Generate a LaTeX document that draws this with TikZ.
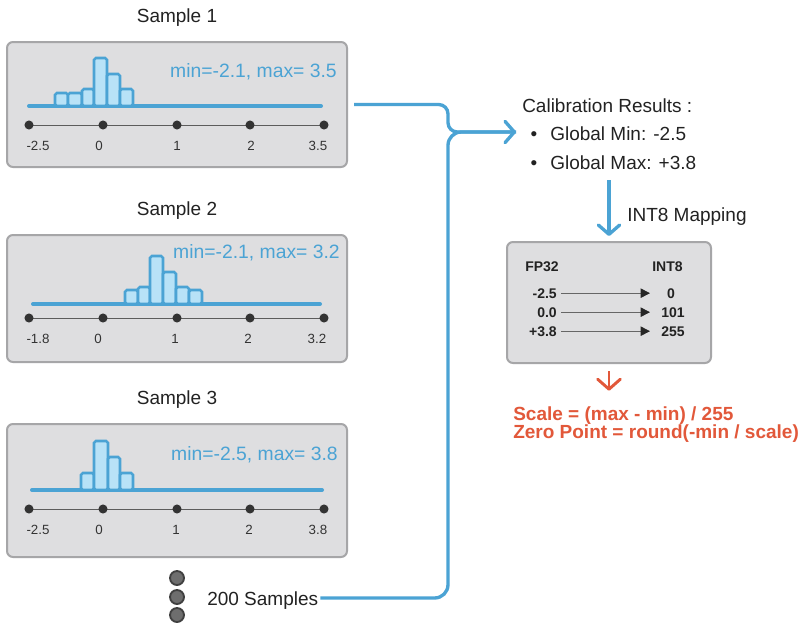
\documentclass[tikz,border=0pt]{standalone}
\usepackage{fontspec}
\setmainfont{Liberation Sans}
\usetikzlibrary{arrows.meta}
\definecolor{cblue}{HTML}{4BA3D4}
\definecolor{cbar}{HTML}{B8E2F7}
\definecolor{cbox}{HTML}{DEDEE0}
\definecolor{cboxline}{HTML}{A6A6A8}
\definecolor{corange}{HTML}{E2583A}
\definecolor{ctext}{HTML}{222222}
\definecolor{caxis}{HTML}{333333}
\definecolor{cdot}{HTML}{6E6E6E}
\begin{document}
\begin{tikzpicture}[x=0.75pt,y=-0.75pt,
  panel/.style={draw=cboxline, fill=cbox, line width=1.5pt, rounded corners=4.5pt, inner sep=0pt},
  txt/.style={inner sep=0pt, text=ctext, font=\fontsize{14.25}{17}\selectfont},
  lbl/.style={inner sep=0pt, text=cblue, font=\fontsize{14.5}{17}\selectfont},
  ax/.style={inner sep=0pt, text=caxis, font=\fontsize{10}{12}\selectfont},
  mp/.style={inner sep=0pt, text=ctext, font=\fontsize{10.5}{12}\selectfont\bfseries},
  formula/.style={inner sep=0pt, text=corange, font=\fontsize{14.25}{16}\selectfont\bfseries},
  baseln/.style={draw=cblue, line width=3pt, line cap=round},
  barst/.style={draw=cblue, fill=cbar, line width=1.9pt, rounded corners=1.4pt},
  axline/.style={draw=caxis!80, line width=0.75pt},
  axdot/.style={fill=caxis},
  conn/.style={draw=cblue, line width=2.5pt},
  chev/.style={-{Straight Barb[length=7pt,width=16pt,round]}},
  maparr/.style={draw=black!60, line width=0.6pt, -{Triangle[length=7pt,width=7pt,color=black!85]}},
  gdot/.style={circle, draw=black!75, fill=cdot, line width=1.4pt, minimum size=10.5pt, inner sep=0pt}
]
\useasboundingbox (0,0) rectangle (800,628);
\fill[white] (0,0) rectangle (800,628);

% ---------- Sample 1 ----------
\node[txt, anchor=base] (t1) at (177,22) {Sample 1};
\node[panel, minimum width=255pt, minimum height=93.75pt] (box1) at (177,104.5) {};
\draw[baseln] (29,106) -- (321,106);
\foreach \a/\b/\t in {55/68/93, 68/82/93, 82/94/89, 94/107/58, 107/120/74, 120/133/89}
  \draw[barst] (\a,106) rectangle (\b,\t);
\node[lbl, anchor=base east] (m1) at (337,77) {min=-2.1, max= 3.5};
\draw[axline] (29,125) -- (324,125);
\foreach \x in {29,103,177,250,324} \fill[axdot] (\x,125) circle (3.4pt);
\foreach \x/\s [count=\i] in {38/-2.5, 99/0, 177/1, 251/2, 318/3.5}
  \node[ax, anchor=base] (a1-\i) at (\x,150) {\s};

% ---------- Sample 2 ----------
\node[txt, anchor=base] (t2) at (177,215) {Sample 2};
\node[panel, minimum width=255pt, minimum height=95.25pt] (box2) at (177,298.5) {};
\draw[baseln] (33,304) -- (320,304);
\foreach \a/\b/\t in {125/138/290, 138/150/287, 150/163/256, 163/176/272, 176/189/287, 189/202/290}
  \draw[barst] (\a,304) rectangle (\b,\t);
\node[lbl, anchor=base east] (m2) at (340,258) {min=-2.1, max= 3.2};
\draw[axline] (29,318) -- (324,318);
\foreach \x in {29,103,177,250,324} \fill[axdot] (\x,318) circle (3.4pt);
\foreach \x/\s [count=\i] in {38/-1.8, 98/0, 175/1, 248/2, 317/3.2}
  \node[ax, anchor=base] (a2-\i) at (\x,343) {\s};

% ---------- Sample 3 ----------
\node[txt, anchor=base] (t3) at (177,404) {Sample 3};
\node[panel, minimum width=255pt, minimum height=99.75pt] (box3) at (177,490.5) {};
\draw[baseln] (32,490) -- (322,490);
\foreach \a/\b/\t in {81/94/473, 94/108/441, 108/120/457, 120/133/473}
  \draw[barst] (\a,490) rectangle (\b,\t);
\node[lbl, anchor=base east] (m3) at (338,460) {min=-2.5, max= 3.8};
\draw[axline] (29,509) -- (324,509);
\foreach \x in {29,103,177,250,324} \fill[axdot] (\x,509) circle (3.4pt);
\foreach \x/\s [count=\i] in {38/-2.5, 99/0, 176/1, 249/2, 318/3.8}
  \node[ax, anchor=base] (a3-\i) at (\x,534) {\s};

% ---------- more samples ----------
\node[gdot] (d1) at (177,578) {};
\node[gdot] (d2) at (177,597) {};
\node[gdot] (d3) at (177,615) {};
\node[txt, anchor=base west] (samples) at (207,605) {200 Samples};

% ---------- calibration results ----------
\node[txt, anchor=base west] (calib) at (522,112) {Calibration Results :};
\node[txt, anchor=base] (b1) at (534,140) {•};
\node[txt, anchor=base west] (gmin) at (550,140) {Global Min: -2.5};
\node[txt, anchor=base] (b2) at (534,169) {•};
\node[txt, anchor=base west] (gmax) at (550,169) {Global Max: +3.8};

% ---------- connectors ----------
\coordinate (jx) at (448,132);
\coordinate (tgt) at (516,132);
\draw[conn, rounded corners=7pt] ([xshift=4.5pt]box1.east) -- (box1.east -| jx) -- (jx) -- (tgt);
\draw[conn, chev, rounded corners=10pt] ([xshift=1.5pt,yshift=5.25pt]samples.base east) -| (jx) -- (tgt);

% ---------- mapping box ----------
\node[panel, minimum width=153pt, minimum height=90.75pt] (mapbox) at (609,302.5) {};
\draw[conn, chev] ([yshift=-8.25pt]mapbox.north |- gmax.south) -- ([yshift=3.75pt]mapbox.north);
\node[txt, anchor=base west] (int8map) at (627,221) {INT8 Mapping};

\node[mp, anchor=base west] (hfp) at (525,271) {FP32};
\node[mp, anchor=base west] (hint) at (652,271) {INT8};
\coordinate (tipx) at (650,0);
\node[mp, anchor=base east] (f1) at (557,298) {-2.5};
\node[mp, anchor=base east] (f2) at (557,317) {0.0};
\node[mp, anchor=base east] (f3) at (557,336) {+3.8};
\node[mp, anchor=base] (q1) at (671,298) {0};
\node[mp, anchor=base] (q2) at (673,317) {101};
\node[mp, anchor=base] (q3) at (673,336) {255};
\foreach \i in {1,2,3}
  \draw[maparr] ([xshift=3pt]f\i.east) -- (f\i.east -| tipx);

% ---------- formulas ----------
\draw[draw=corange, line width=2.2pt, -{Straight Barb[length=7.5pt,width=17pt,round]}] ([yshift=-5.5pt]mapbox.south) -- ([yshift=-20pt]mapbox.south);
\node[formula, anchor=base west] (fs) at (513,420) {Scale = (max - min) / 255};
\node[formula, anchor=base west] (fz) at (513,438.5) {Zero Point = round(-min / scale)};
\end{tikzpicture}
\end{document}
